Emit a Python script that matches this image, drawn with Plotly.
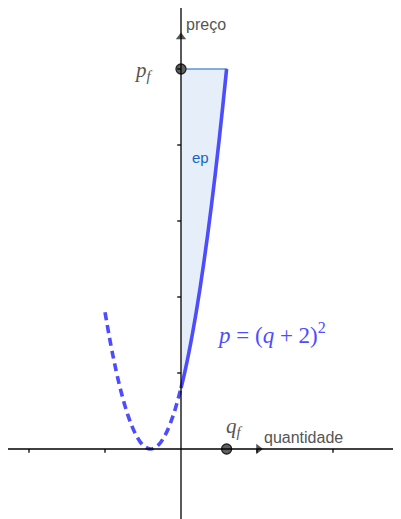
import plotly.graph_objects as go

# dados
q_solid = [0, 0.25, 0.5, 0.75, 1, 1.25, 1.5, 1.75, 2, 2.25, 2.5, 2.75, 3]
q_dash = [-5, -4.5, -4, -3.5, -3, -2.5, -2, -1.5, -1, -0.5, 0]
p_solid = [(q + 2) ** 2 for q in q_solid]
p_dash = [(q + 2) ** 2 for q in q_dash]
q_f, p_f = 3, 25
ticks_q = [-10, -5, 5, 10]
ticks_p = [5, 10, 15, 20, 25]

azul = "#4d4dff"
cinza = "#555555"
esc = 15.2  # px por unidade
x_min, x_max = -173 / esc, 220 / esc
y_min, y_max = -70 / esc, 441 / esc

fig = go.Figure()

# área ep
fig.add_trace(go.Scatter(
    x=[0] + q_solid + [0], y=[p_solid[0]] + p_solid + [p_f],
    mode="lines", fill="toself", fillcolor="rgba(210,225,244,0.55)",
    line=dict(color="#1565c0", width=1.2), hoverinfo="skip"))

# eixos
fig.add_shape(type="line", x0=x_min, x1=x_max, y0=0, y1=0, line=dict(color="black", width=1.3))
fig.add_shape(type="line", x0=0, x1=0, y0=y_min, y1=y_max, line=dict(color="black", width=1.3))
for t in ticks_q:
    fig.add_shape(type="line", x0=t, x1=t, y0=0, y1=-0.25, line=dict(color="black", width=1.3))
for t in ticks_p:
    fig.add_shape(type="line", x0=0, x1=-0.25, y0=t, y1=t, line=dict(color="black", width=1.3))

# setas
fig.add_trace(go.Scatter(x=[5.1], y=[0], mode="markers",
                         marker=dict(symbol="triangle-right", size=9, color=cinza), hoverinfo="skip"))
fig.add_trace(go.Scatter(x=[0], y=[27.1], mode="markers",
                         marker=dict(symbol="triangle-up", size=9, color=cinza), hoverinfo="skip"))

# curva
fig.add_trace(go.Scatter(x=q_dash, y=p_dash, mode="lines",
                         line=dict(color=azul, width=3.6, dash="8px,5px", shape="spline")))
fig.add_trace(go.Scatter(x=q_solid, y=p_solid, mode="lines",
                         line=dict(color=azul, width=3.6, shape="spline")))

# pontos
fig.add_trace(go.Scatter(x=[0, q_f], y=[p_f, 0], mode="markers",
                         marker=dict(size=10, color="#606060", line=dict(color="#222222", width=1.3))))

fig.add_annotation(x=0.2, y=27.9, text="preço", showarrow=False, xanchor="left",
                   font=dict(family="Liberation Sans, Arial", size=16, color=cinza))
fig.add_annotation(x=5.35, y=0.75, text="quantidade", showarrow=False, xanchor="left",
                   font=dict(family="Liberation Sans, Arial", size=16, color=cinza))
fig.add_annotation(x=1.25, y=19.2, text="ep", showarrow=False,
                   font=dict(family="Liberation Sans, Arial", size=15, color="#1565c0"))
fig.add_annotation(x=-2.45, y=24.9, text="<i>p</i><sub><i>f</i></sub>", showarrow=False,
                   font=dict(family="Liberation Serif, serif", size=21, color=cinza))
fig.add_annotation(x=3.55, y=1.45, text="<i>q</i><sub><i>f</i></sub>", showarrow=False,
                   font=dict(family="Liberation Serif, serif", size=21, color=cinza))
fig.add_annotation(x=5.95, y=7.6, text="<i>p</i> = (<i>q</i> + 2)<sup>2</sup>", showarrow=False,
                   font=dict(family="Liberation Serif, serif", size=23, color=azul))

fig.update_layout(
    width=393, height=511,
    margin=dict(l=0, r=0, t=0, b=0),
    plot_bgcolor="white", paper_bgcolor="white",
    showlegend=False,
    xaxis=dict(range=[x_min, x_max], visible=False, fixedrange=True),
    yaxis=dict(range=[y_min, y_max], visible=False, fixedrange=True),
)

fig.write_html("out.html")
